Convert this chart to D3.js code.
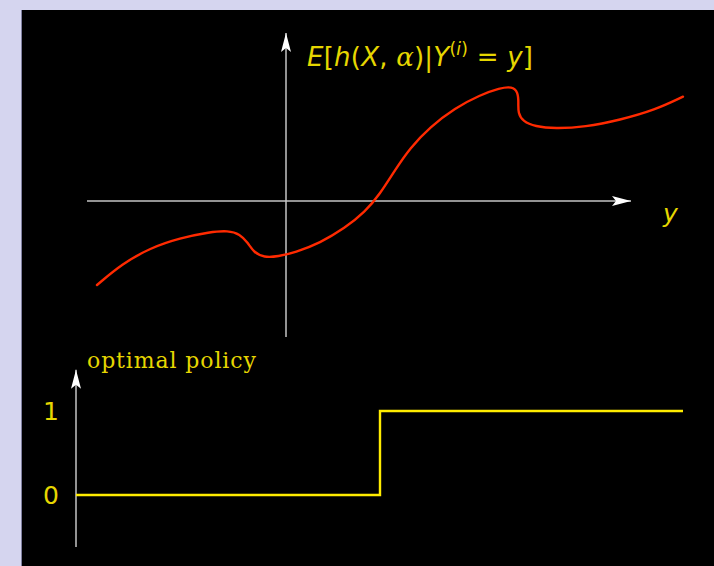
<!DOCTYPE html>
<html>
<head>
<meta charset="utf-8">
<script src="https://cdn.jsdelivr.net/npm/d3@7"></script>
<style>
  html, body { margin: 0; padding: 0; background: #d5d5ef; }
  svg { display: block; }
</style>
</head>
<body>
<svg id="chart" width="714" height="566"></svg>
<script>
// Expected payoff as a function of the observed y (upper panel)
const curveY = [-3.78, -3.28, -2.72, -2.12, -1.52, -1.16, -0.92, -0.76, -0.64, -0.44, -0.16, 0.18, 0.68, 1.18, 1.58, 1.88, 2.18, 2.48, 2.88, 3.38, 3.88, 4.28, 4.52, 4.64, 4.65, 4.64, 4.74, 4.98, 5.38, 5.98, 6.68, 7.38, 7.94];
const curveValue = [-1.68, -1.26, -0.94, -0.74, -0.62, -0.59, -0.66, -0.84, -1.03, -1.13, -1.11, -1.03, -0.84, -0.54, -0.22, 0.14, 0.62, 1.06, 1.48, 1.86, 2.12, 2.26, 2.29, 2.18, 1.96, 1.76, 1.59, 1.49, 1.446, 1.48, 1.62, 1.82, 2.086];

// Optimal policy: 0 until the threshold, 1 afterwards (lower panel)
const policyY = [-4.2, 1.88, 7.94];
const policyValue = [0, 1, 1];
const policyTicks = [0, 1];

// Axis extents in data units
const upperXAxis = [-3.98, 6.9];
const upperYAxis = [-2.72, 3.36];
const lowerYAxisRange = [-0.62, 1.49];

const svg = d3.select("#chart");
const yellowText = "#e6d600";
const yellowLine = "#ffec00";
const red = "#ff2a00";
const axisColor = "#c4c4c4";

// slide frame
svg.append("rect").attr("x", 22).attr("y", 10).attr("width", 692).attr("height", 556).attr("fill", "#000");
svg.append("line").attr("x1", 21.5).attr("x2", 21.5).attr("y1", 10).attr("y2", 566)
  .attr("stroke", "#8080a0").attr("stroke-width", 1);

const x = d3.scaleLinear().domain([-4, 8]).range([86, 686]);
const yTop = d3.scaleLinear().domain([0, 1]).range([201, 151]);
const yBot = d3.scaleLinear().domain([0, 1]).range([495, 411]);

function arrowLine(x1, y1, x2, y2) {
  svg.append("line").attr("x1", x1).attr("y1", y1).attr("x2", x2).attr("y2", y2)
    .attr("stroke", axisColor).attr("stroke-width", 1.5);
  const ang = Math.atan2(y2 - y1, x2 - x1);
  const len = 19, half = 5;
  const bx = x2 - len * Math.cos(ang), by = y2 - len * Math.sin(ang);
  const px = -Math.sin(ang), py = Math.cos(ang);
  const cx = x2 - (len - 4) * Math.cos(ang), cy = y2 - (len - 4) * Math.sin(ang);
  svg.append("path")
    .attr("d", `M${x2},${y2} L${bx + px * half},${by + py * half} L${cx},${cy} L${bx - px * half},${by - py * half} Z`)
    .attr("fill", "#fff");
}

// upper axes
arrowLine(x(upperXAxis[0]), yTop(0), x(upperXAxis[1]), yTop(0));
arrowLine(x(0), yTop(upperYAxis[0]), x(0), yTop(upperYAxis[1]));

// payoff curve (B-spline through the sampled points for a smooth stroke)
const curvePts = curveY.map((d, i) => [d, curveValue[i]]);
svg.append("path")
  .datum(curvePts)
  .attr("d", d3.line().x(d => x(d[0])).y(d => yTop(d[1])).curve(d3.curveBasis))
  .attr("fill", "none").attr("stroke", red).attr("stroke-width", 2.4)
  .attr("stroke-linecap", "round");

// curve label: E[h(X, α) | Y^(i) = y]
const sans = "'DejaVu Sans', sans-serif";
const label = svg.append("text").attr("x", 307).attr("y", 66)
  .attr("font-family", sans).attr("font-size", 26).attr("fill", yellowText);
const segs = [
  { t: "E", it: true }, { t: "[" }, { t: "h", it: true }, { t: "(" }, { t: "X", it: true },
  { t: ", " }, { t: "α", it: true, serif: true }, { t: ")|" }, { t: "Y", it: true },
  { t: "(", sup: true, first: true }, { t: "i", it: true, sup: true }, { t: ")", sup: true },
  { t: " = ", down: true }, { t: "y", it: true }, { t: "]" }
];
segs.forEach(s => {
  const ts = label.append("tspan").text(s.t);
  if (s.it) ts.attr("font-style", "italic");
  if (s.serif) ts.attr("font-family", "'DejaVu Serif', serif");
  if (s.sup) ts.attr("font-size", 17);
  if (s.first) ts.attr("dy", -11);
  if (s.down) ts.attr("dy", 11);
});
// stretch spacing so the label spans its slot
{
  const w = label.node().getComputedTextLength();
  const chars = label.text().length;
  label.attr("letter-spacing", ((226 - w) / (chars - 1)).toFixed(2));
}

// horizontal axis label
svg.append("text").attr("x", 663).attr("y", 222)
  .attr("font-family", sans).attr("font-style", "italic").attr("font-size", 25)
  .attr("fill", yellowText).text("y");

// lower panel axis
arrowLine(76, yBot(lowerYAxisRange[0]), 76, yBot(lowerYAxisRange[1]));

const title = svg.append("text").attr("x", 87).attr("y", 368)
  .attr("font-family", "'DejaVu Serif', serif").attr("font-size", 22)
  .attr("fill", yellowText).text("optimal policy");
{
  const w = title.node().getComputedTextLength();
  title.attr("letter-spacing", ((169 - w) / 13).toFixed(2));
}

svg.selectAll("text.tick").data(policyTicks).enter().append("text")
  .attr("class", "tick")
  .attr("x", 51).attr("y", d => yBot(d)).attr("dy", "0.36em")
  .attr("text-anchor", "middle")
  .attr("font-family", sans).attr("font-size", 25)
  .attr("fill", yellowText).text(d => d);

// policy step line
const policyPts = policyY.map((d, i) => [d, policyValue[i]]);
svg.append("path")
  .datum(policyPts)
  .attr("d", d3.line().x(d => x(d[0])).y(d => yBot(d[1])).curve(d3.curveStepAfter))
  .attr("fill", "none").attr("stroke", yellowLine).attr("stroke-width", 2.4);
</script>
</body>
</html>
